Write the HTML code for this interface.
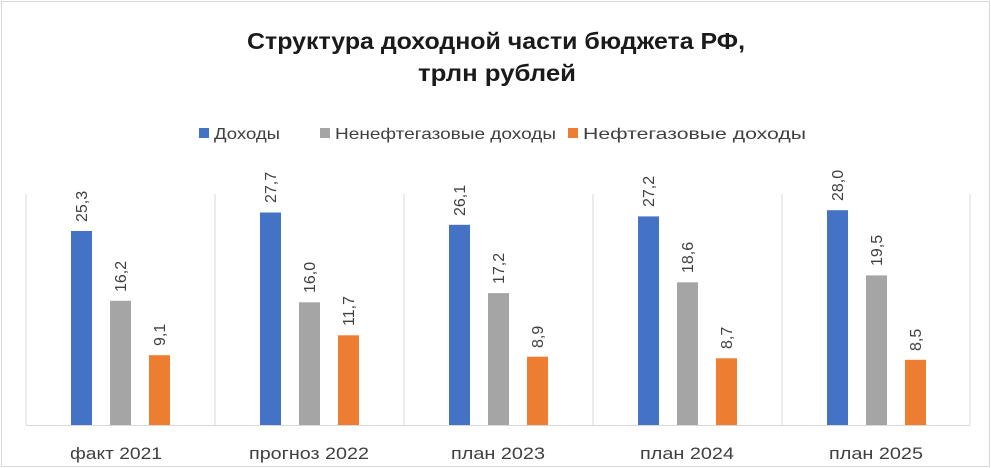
<!DOCTYPE html>
<html><head><meta charset="utf-8"><style>
html,body{margin:0;padding:0;background:#fff}
svg{display:block;font-family:"Liberation Sans",sans-serif}
</style></head><body>
<svg width="991" height="468" viewBox="0 0 991 468">
<rect x="1.5" y="1.5" width="988" height="465" fill="#fff" stroke="#d9d9d9" stroke-width="1"/>
<text x="247" y="49" textLength="498" lengthAdjust="spacingAndGlyphs" font-size="23" font-weight="bold" fill="#1a1a1a">Структура доходной части бюджета РФ,</text>
<text x="418" y="81" textLength="158" lengthAdjust="spacingAndGlyphs" font-size="23" font-weight="bold" fill="#1a1a1a">трлн рублей</text>
<g font-size="16" fill="#404040">
<rect x="199" y="128" width="10" height="10" fill="#4472c4"/><text x="214" y="139" textLength="66" lengthAdjust="spacingAndGlyphs">Доходы</text>
<rect x="320" y="128" width="10" height="10" fill="#a5a5a5"/><text x="335" y="139" textLength="221" lengthAdjust="spacingAndGlyphs">Ненефтегазовые доходы</text>
<rect x="568" y="128" width="10" height="10" fill="#ed7d31"/><text x="583" y="139" textLength="223" lengthAdjust="spacingAndGlyphs">Нефтегазовые доходы</text>
</g>
<g stroke="#d9d9d9" stroke-width="1">
<line x1="26" y1="194" x2="26" y2="425"/><line x1="215" y1="194" x2="215" y2="425"/><line x1="404" y1="194" x2="404" y2="425"/><line x1="593" y1="194" x2="593" y2="425"/><line x1="782" y1="194" x2="782" y2="425"/><line x1="970" y1="194" x2="970" y2="425"/>
<line x1="26" y1="425.5" x2="970" y2="425.5"/>
</g>
<g>
<rect x="71" y="231" width="21" height="194" fill="#4472c4"/>
<rect x="110" y="300.8" width="21" height="124.2" fill="#a5a5a5"/>
<rect x="149" y="355.2" width="21" height="69.8" fill="#ed7d31"/>
<rect x="260" y="212.5" width="21" height="212.5" fill="#4472c4"/>
<rect x="299" y="302.3" width="21" height="122.7" fill="#a5a5a5"/>
<rect x="338" y="335.3" width="21" height="89.7" fill="#ed7d31"/>
<rect x="449" y="224.8" width="21" height="200.2" fill="#4472c4"/>
<rect x="488" y="293.1" width="21" height="131.9" fill="#a5a5a5"/>
<rect x="527" y="356.7" width="21" height="68.3" fill="#ed7d31"/>
<rect x="638" y="216.4" width="21" height="208.6" fill="#4472c4"/>
<rect x="677" y="282.3" width="21" height="142.7" fill="#a5a5a5"/>
<rect x="716" y="358.3" width="21" height="66.7" fill="#ed7d31"/>
<rect x="827" y="210.2" width="21" height="214.8" fill="#4472c4"/>
<rect x="866" y="275.4" width="21" height="149.6" fill="#a5a5a5"/>
<rect x="905" y="359.8" width="21" height="65.2" fill="#ed7d31"/>
</g>
<g font-size="16" fill="#404040">
<text transform="translate(87,222) rotate(-90)">25,3</text>
<text transform="translate(126,292) rotate(-90)">16,2</text>
<text transform="translate(165,346) rotate(-90)">9,1</text>
<text transform="translate(276,203) rotate(-90)">27,7</text>
<text transform="translate(315,293) rotate(-90)">16,0</text>
<text transform="translate(354,326) rotate(-90)">11,7</text>
<text transform="translate(465,216) rotate(-90)">26,1</text>
<text transform="translate(504,284) rotate(-90)">17,2</text>
<text transform="translate(543,348) rotate(-90)">8,9</text>
<text transform="translate(654,207) rotate(-90)">27,2</text>
<text transform="translate(693,273) rotate(-90)">18,6</text>
<text transform="translate(732,349) rotate(-90)">8,7</text>
<text transform="translate(843,201) rotate(-90)">28,0</text>
<text transform="translate(882,266) rotate(-90)">19,5</text>
<text transform="translate(921,351) rotate(-90)">8,5</text>
</g>
<g font-size="17" fill="#404040">
<text x="70" y="459" textLength="92" lengthAdjust="spacingAndGlyphs">факт 2021</text>
<text x="249" y="459" textLength="120" lengthAdjust="spacingAndGlyphs">прогноз 2022</text>
<text x="451" y="459" textLength="94" lengthAdjust="spacingAndGlyphs">план 2023</text>
<text x="640" y="459" textLength="94" lengthAdjust="spacingAndGlyphs">план 2024</text>
<text x="829" y="459" textLength="94" lengthAdjust="spacingAndGlyphs">план 2025</text>
</g>
</svg>
</body></html>
